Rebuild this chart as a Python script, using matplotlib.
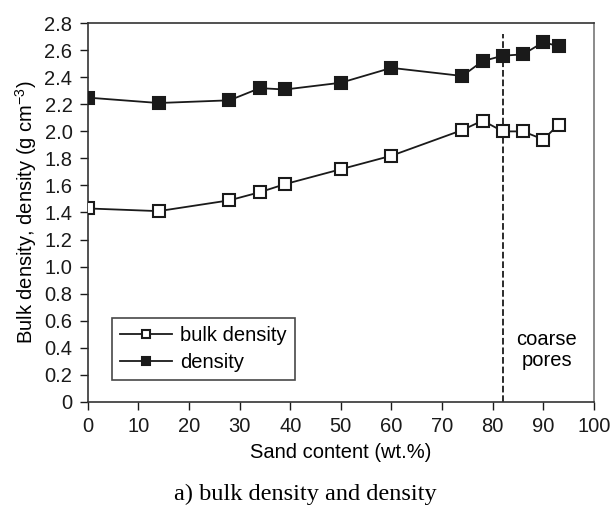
import matplotlib
matplotlib.use("Agg")
import matplotlib.pyplot as plt

# -- DATA -- #
sand = [0, 14, 28, 34, 39, 50, 60, 74, 78, 82, 86, 90, 93]
bulk_density = [1.43, 1.41, 1.49, 1.55, 1.61, 1.72, 1.82, 2.01, 2.08, 2.00, 2.00, 1.94, 2.05]
density = [2.25, 2.21, 2.23, 2.32, 2.31, 2.36, 2.47, 2.41, 2.52, 2.56, 2.57, 2.66, 2.63]
coarse_limit = 82

plt.rcParams['font.family'] = ['Liberation Sans', 'DejaVu Sans']
plt.rcParams['mathtext.fontset'] = 'custom'
plt.rcParams['mathtext.rm'] = 'Liberation Sans'

fig = plt.figure(figsize=(6.11, 5.07), dpi=100)
ax = fig.add_axes([0.1435, 0.2077, 0.8286, 0.7464])

ax.plot(sand, bulk_density, '-s', color='#1a1a1a', mfc='white', mec='#1a1a1a',
        ms=9, mew=1.5, lw=1.3, label='bulk density', zorder=3)
ax.plot(sand, density, '-s', color='#1a1a1a', mfc='#1a1a1a', mec='#1a1a1a',
        ms=9, mew=1.5, lw=1.3, label='density', zorder=3)
ax.plot([coarse_limit, coarse_limit], [0, 2.72], ls='--', color='#1a1a1a', lw=1.3)

ax.text(90.7, 0.38, 'coarse\npores', fontsize=14.5, ha='center', va='center',
        linespacing=1.15)

ax.set_xlim(0, 100)
ax.set_ylim(0, 2.8)
ax.set_xticks(range(0, 101, 10))
ax.set_yticks([i * 0.2 for i in range(15)])
ax.set_yticklabels(['0'] + ['%.1f' % (i * 0.2) for i in range(1, 15)])
ax.tick_params(direction='out', length=6, width=1, labelsize=14.5, colors='#1a1a1a', pad=5)
for s in ax.spines.values():
    s.set_linewidth(1.2)
    s.set_color('#333333')
ax.spines['right'].set_color('#777777')

ax.set_xlabel('Sand content (wt.%)', fontsize=14.5, labelpad=5)
ax.set_ylabel(r'Bulk density, density (g cm$^{\mathrm{-3}}$)', fontsize=14.5, labelpad=4)

leg = ax.legend(loc='lower left', bbox_to_anchor=(0.048, 0.057), fontsize=14.5,
                fancybox=False, edgecolor='#1a1a1a', handlelength=2.6,
                borderpad=0.4, labelspacing=0.4, handletextpad=0.4,
                borderaxespad=0.0, markerscale=0.7)
leg.get_frame().set_linewidth(1.2)

fig.text(0.5, 0.024, 'a) bulk density and density', ha='center', va='center',
         fontsize=17.5, family='Liberation Serif')

fig.savefig('out.png', dpi=100)
